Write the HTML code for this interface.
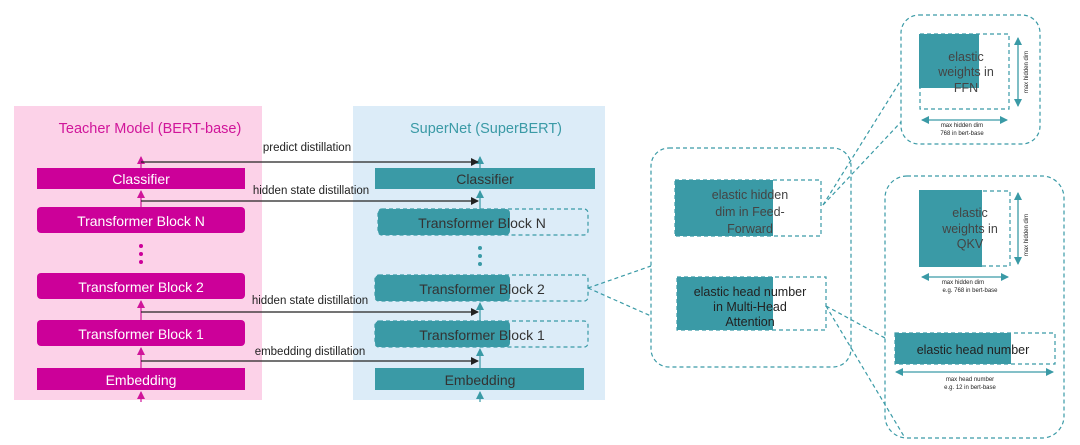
<!DOCTYPE html>
<html><head><meta charset="utf-8"><style>
body{margin:0;background:#fff;}
svg{display:block;font-family:"Liberation Sans",sans-serif;}
</style></head><body>
<svg width="1080" height="445" viewBox="0 0 1080 445" xmlns="http://www.w3.org/2000/svg">
<defs>
<marker id="ak" markerWidth="8" markerHeight="8" refX="7" refY="4" orient="auto" markerUnits="userSpaceOnUse"><path d="M0,0 L8,4 L0,8z" fill="#222"/></marker>
<marker id="ap" markerWidth="8" markerHeight="8" refX="7" refY="4" orient="auto" markerUnits="userSpaceOnUse"><path d="M0,0 L8,4 L0,8z" fill="#d0159a"/></marker>
<marker id="at" markerWidth="8" markerHeight="8" refX="7" refY="4" orient="auto" markerUnits="userSpaceOnUse"><path d="M0,0 L8,4 L0,8z" fill="#3a9aa6"/></marker>
<marker id="as" markerWidth="8" markerHeight="8" refX="7" refY="4" orient="auto-start-reverse" markerUnits="userSpaceOnUse"><path d="M0,0 L8,4 L0,8z" fill="#3a9aa6"/></marker>
</defs>
<rect x="14" y="106" width="248" height="294" fill="#fcd2e8"/>
<rect x="353" y="106" width="252" height="294" fill="#dcecf8"/>
<text x="150" y="133" font-size="14.5" fill="#d0159a" text-anchor="middle">Teacher Model (BERT-base)</text>
<text x="486" y="133" font-size="14.5" fill="#3a9aa6" text-anchor="middle">SuperNet  (SuperBERT)</text>

<g stroke="#d0159a" stroke-width="1.2">
<line x1="141" y1="402" x2="141" y2="392" marker-end="url(#ap)"/>
<line x1="141" y1="368" x2="141" y2="348" marker-end="url(#ap)"/>
<line x1="141" y1="320" x2="141" y2="301" marker-end="url(#ap)"/>
<line x1="141" y1="207" x2="141" y2="191" marker-end="url(#ap)"/>
<line x1="141" y1="168" x2="141" y2="157" marker-end="url(#ap)"/>
</g>
<g fill="#cc0099">
<rect x="37" y="168" width="208" height="21"/>
<rect x="37" y="207" width="208" height="26" rx="4"/>
<rect x="37" y="273" width="208" height="26" rx="4"/>
<rect x="37" y="320" width="208" height="26" rx="4"/>
<rect x="37" y="368" width="208" height="22"/>
<circle cx="141" cy="246" r="2"/><circle cx="141" cy="254" r="2"/><circle cx="141" cy="262" r="2"/>
</g>
<g fill="#fff" font-size="14" text-anchor="middle">
<text x="141" y="184">Classifier</text>
<text x="141" y="226">Transformer Block N</text>
<text x="141" y="292">Transformer Block 2</text>
<text x="141" y="339">Transformer Block 1</text>
<text x="141" y="385">Embedding</text>
</g>

<g stroke="#3a9aa6" stroke-width="1.2">
<line x1="480" y1="402" x2="480" y2="392" marker-end="url(#at)"/>
<line x1="480" y1="368" x2="480" y2="349" marker-end="url(#at)"/>
<line x1="480" y1="321" x2="480" y2="303" marker-end="url(#at)"/>
<line x1="480" y1="209" x2="480" y2="191" marker-end="url(#at)"/>
<line x1="480" y1="168" x2="480" y2="157" marker-end="url(#at)"/>
</g>
<g fill="none" stroke="#3a9aa6" stroke-dasharray="4,3" stroke-width="1.2">
<rect x="378" y="209" width="210" height="26" rx="4"/>
<rect x="375" y="275" width="213" height="26" rx="4"/>
<rect x="375" y="321" width="213" height="26" rx="4"/>
</g>
<g fill="#3a9aa6">
<rect x="375" y="168" width="220" height="21"/>
<rect x="378" y="209" width="132" height="26" rx="4"/>
<rect x="375" y="275" width="135" height="26" rx="4"/>
<rect x="375" y="321" width="135" height="26" rx="4"/>
<rect x="375" y="368" width="209" height="22"/>
<circle cx="480" cy="248" r="2"/><circle cx="480" cy="256" r="2"/><circle cx="480" cy="264" r="2"/>
</g>
<g fill="#333" font-size="14" text-anchor="middle">
<text x="485" y="184">Classifier</text>
<text x="482" y="228">Transformer Block N</text>
<text x="482" y="294">Transformer Block 2</text>
<text x="482" y="340">Transformer Block 1</text>
<text x="480" y="385">Embedding</text>
</g>

<g stroke="#222" stroke-width="1.2">
<line x1="141" y1="162" x2="478" y2="162" marker-end="url(#ak)"/>
<line x1="141" y1="201" x2="478" y2="201" marker-end="url(#ak)"/>
<line x1="141" y1="312" x2="478" y2="312" marker-end="url(#ak)"/>
<line x1="141" y1="361" x2="478" y2="361" marker-end="url(#ak)"/>
</g>
<g fill="#222" font-size="11.5" text-anchor="middle">
<text x="307" y="151">predict distillation</text>
<text x="311" y="194">hidden state distillation</text>
<text x="310" y="304">hidden state distillation</text>
<text x="310" y="355">embedding distillation</text>
</g>

<g fill="none" stroke="#3a9aa6" stroke-dasharray="4,3" stroke-width="1.2">
<path d="M588,288 L651,266 M588,288 L651,316"/>
<rect x="651" y="148" width="200" height="219" rx="18"/>
<path d="M823,205 L901,80 M823,205 L901,122"/>
<rect x="901" y="15" width="139" height="129" rx="18"/>
<path d="M826,306 L885,338 M826,306 L905,438"/>
<rect x="885" y="176" width="179" height="262" rx="22"/>
<rect x="675" y="180" width="146" height="56"/>
<rect x="677" y="277" width="149" height="53"/>
<rect x="920" y="34" width="89" height="75"/>
<rect x="920" y="191" width="90" height="75"/>
<rect x="895" y="333" width="160" height="31"/>
</g>
<g fill="#3a9aa6">
<rect x="675" y="180" width="98" height="56"/>
<rect x="677" y="277" width="96" height="53"/>
<rect x="919" y="34" width="60" height="54"/>
<rect x="919" y="190" width="63" height="77"/>
<rect x="895" y="333" width="116" height="31"/>
</g>
<g fill="#444" font-size="12.5" text-anchor="middle">
<text x="750" y="199">elastic hidden</text>
<text x="750" y="216">dim in Feed-</text>
<text x="750" y="233">Forward</text>
<text x="750" y="296" fill="#222">elastic head number</text>
<text x="750" y="311" fill="#222">in Multi-Head</text>
<text x="750" y="326" fill="#222">Attention</text>
<text x="966" y="61">elastic</text>
<text x="966" y="76">weights in</text>
<text x="966" y="92">FFN</text>
<text x="970" y="217">elastic</text>
<text x="970" y="233">weights in</text>
<text x="970" y="248">QKV</text>
<text x="973" y="354" fill="#222">elastic head number</text>
</g>
<g stroke="#3a9aa6" stroke-width="1.3">
<line x1="1018" y1="38" x2="1018" y2="106" marker-start="url(#as)" marker-end="url(#as)"/>
<line x1="922" y1="120" x2="1007" y2="120" marker-start="url(#as)" marker-end="url(#as)"/>
<line x1="1018" y1="193" x2="1018" y2="264" marker-start="url(#as)" marker-end="url(#as)"/>
<line x1="922" y1="277" x2="1008" y2="277" marker-start="url(#as)" marker-end="url(#as)"/>
<line x1="896" y1="372" x2="1053" y2="372" marker-start="url(#as)" marker-end="url(#as)"/>
</g>
<g fill="#222" font-size="6" text-anchor="middle">
<text x="962" y="127">max hidden dim</text>
<text x="962" y="135">768 in bert-base</text>
<text x="963" y="284">max hidden dim</text>
<text x="970" y="292">e.g. 768 in bert-base</text>
<text x="970" y="381">max head number</text>
<text x="970" y="389">e.g. 12 in bert-base</text>
<text transform="translate(1028,72) rotate(-90)">max hidden dim</text>
<text transform="translate(1028,235) rotate(-90)">max hidden dim</text>
</g>
</svg>
</body></html>
